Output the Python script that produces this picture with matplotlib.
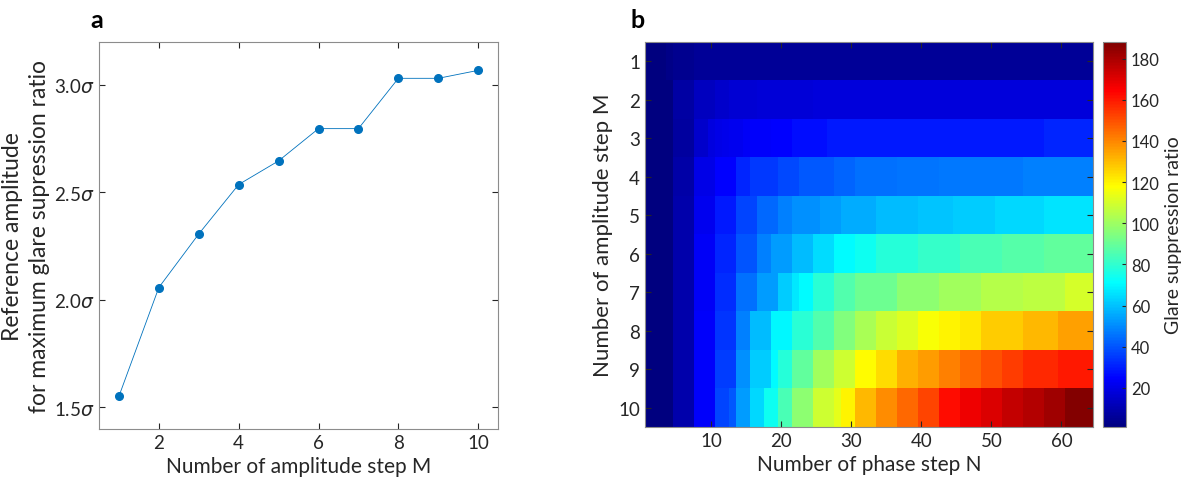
import numpy as np
import matplotlib
matplotlib.use("Agg")
import matplotlib.pyplot as plt
from matplotlib.colors import LinearSegmentedColormap

plt.rcParams['font.family'] = ['Lato', 'DejaVu Sans']
plt.rcParams['mathtext.fontset'] = 'dejavusans'

# panel a
m_steps = [1, 2, 3, 4, 5, 6, 7, 8, 9, 10]
ref_amp = [1.552, 2.058, 2.307, 2.537, 2.647, 2.797, 2.797, 3.031, 3.031, 3.068]
ytick_vals = [1.5, 2.0, 2.5, 3.0]
ytick_labels = ["1.5$\\sigma$", "2.0$\\sigma$", "2.5$\\sigma$", "3.0$\\sigma$"]

# panel b: glare suppression ratio, rows M = 1..10, columns N = 1..64
ratio_m1 = [1.5, 1.5, 1.5, 3, 4.5, 4.5, 4.5, 5.5, 5.5, 5.5, 5.5, 5.5, 5.5, 5.5, 5.5, 5.5,
            5.5, 5.5, 5.5, 5.5, 5.5, 5.5, 5.5, 5.5, 5.5, 5.5, 5.5, 5.5, 5.5, 5.5, 5.5, 5.5,
            5.5, 5.5, 5.5, 5.5, 5.5, 5.5, 5.5, 5.5, 5.5, 5.5, 5.5, 5.5, 5.5, 5.5, 5.5, 5.5,
            5.5, 5.5, 5.5, 5.5, 5.5, 5.5, 5.5, 5.5, 5.5, 5.5, 5.5, 5.5, 5.5, 5.5, 5.5, 5.5]
ratio_m2 = [1.5, 1.5, 1.5, 1.5, 8, 8, 8, 13, 13, 13, 15, 15, 16.5, 16.5, 16.5, 16.5,
            17.5, 17.5, 17.5, 17.5, 17.5, 17.5, 17.5, 17.5, 18.5, 18.5, 18.5, 18.5, 18.5, 18.5, 18.5, 18.5,
            18.5, 18.5, 18.5, 18.5, 18.5, 18.5, 18.5, 18.5, 18.5, 18.5, 18.5, 18.5, 18.5, 18.5, 18.5, 18.5,
            18.5, 18.5, 18.5, 18.5, 18.5, 18.5, 18.5, 18.5, 18.5, 18.5, 18.5, 18.5, 18.5, 18.5, 18.5, 18.5]
ratio_m3 = [1.5, 1.5, 1.5, 1.5, 7.5, 7.5, 7.5, 15.5, 15.5, 19, 20, 21, 22, 22, 23, 24,
            24, 24, 25, 25, 25, 27, 27, 27, 27, 27, 29, 29, 29, 29, 29, 29,
            29, 29, 29, 29, 29, 29, 29, 29, 29, 29, 29, 29, 29, 29, 29, 29,
            29, 29, 29, 29, 29, 29, 29, 29, 29, 31, 31, 31, 31, 31, 31, 31]
ratio_m4 = [1.5, 1.5, 1.5, 1.5, 9, 9, 9, 20.5, 20.5, 20.5, 25, 25, 25, 31, 31, 35,
            35, 35, 35, 38, 38, 38, 41, 41, 41, 41, 41, 43, 43, 43, 45.5, 45.5,
            45.5, 45.5, 45.5, 45.5, 46, 46, 46, 46, 46, 46, 47, 47, 47, 47, 47, 47,
            47, 47, 47, 47, 47, 47, 48, 48, 48, 48, 48, 48, 48, 48, 48, 48]
ratio_m5 = [1.5, 1.5, 1.5, 1.5, 9.5, 9.5, 9.5, 22, 22, 22, 29, 29, 29, 37, 37, 37,
            43.5, 43.5, 43.5, 48, 48, 51, 51, 51, 51, 53.5, 53.5, 53.5, 56, 56, 56, 56,
            56, 59, 59, 59, 59, 59, 59, 60.5, 60.5, 60.5, 60.5, 60.5, 62, 62, 62, 62,
            62, 62, 64, 64, 64, 64, 64, 64, 64, 66.5, 66.5, 66.5, 66.5, 66.5, 66.5, 66.5]
ratio_m6 = [1.5, 1.5, 1.5, 1.5, 9.5, 9.5, 9.5, 23, 23, 23, 31, 31, 31, 40, 40, 40,
            48, 48, 53, 53, 53, 59, 59, 59, 65, 65, 65, 71, 71, 71, 74, 74,
            74, 78, 78, 78, 78, 78, 78, 81, 81, 81, 81, 81, 81, 85, 85, 85,
            85, 85, 85, 87, 87, 87, 87, 87, 87, 89, 89, 89, 89, 89, 89, 89]
ratio_m7 = [1.5, 1.5, 1.5, 1.5, 9.5, 9.5, 9.5, 23, 23, 23, 33, 33, 33, 45, 45, 45,
            53, 53, 53, 62, 62, 67, 71, 71, 79, 79, 79, 86, 86, 86, 91, 91,
            91, 91, 91, 91, 97, 97, 97, 97, 97, 97, 101, 101, 101, 101, 101, 101,
            104, 104, 104, 104, 104, 104, 106, 106, 106, 106, 106, 106, 110, 110, 110, 110]
ratio_m8 = [1.5, 1.5, 1.5, 1.5, 9.5, 9.5, 9.5, 24, 24, 24, 34, 34, 34, 48, 48, 59,
            59, 59, 70, 70, 70, 79, 79, 79, 86, 86, 86, 95, 95, 95, 102, 102,
            102, 108, 108, 108, 112, 112, 112, 117, 117, 117, 120, 120, 120, 122, 122, 122,
            127, 127, 127, 127, 127, 127, 131, 131, 131, 131, 131, 135, 135, 135, 135, 135]
ratio_m9 = [1.5, 1.5, 1.5, 1.5, 9.5, 9.5, 9.5, 24, 24, 24, 36, 36, 36, 51, 51, 62,
            62, 62, 71, 78, 78, 89, 89, 89, 101, 101, 101, 109, 109, 109, 118, 118,
            118, 124, 124, 124, 132, 132, 132, 136, 136, 136, 141, 141, 141, 145, 145, 145,
            150, 150, 150, 153, 153, 153, 157, 157, 157, 157, 157, 160, 160, 160, 160, 160]
ratio_m10 = [1.5, 1.5, 1.5, 1.5, 9.5, 9.5, 9.5, 24, 24, 24, 37, 37, 41, 53, 53, 64,
             64, 74, 74, 85, 85, 97, 97, 97, 109, 109, 109, 113, 120, 120, 131, 131,
             131, 139, 139, 139, 145, 145, 145, 152, 152, 152, 162, 162, 162, 167, 167, 167,
             171, 171, 171, 175, 175, 175, 178, 178, 178, 182, 182, 182, 187, 187, 187, 187]
ratio = np.array([ratio_m1, ratio_m2, ratio_m3, ratio_m4, ratio_m5,
                  ratio_m6, ratio_m7, ratio_m8, ratio_m9, ratio_m10])
n_steps = np.arange(1, ratio.shape[1] + 1)

# MATLAB style jet
matlab_jet = LinearSegmentedColormap('matlab_jet', {
    'red':   [(0, 0, 0), (0.375, 0, 0), (0.625, 1, 1), (0.875, 1, 1), (1, 0.5, 0.5)],
    'green': [(0, 0, 0), (0.125, 0, 0), (0.375, 1, 1), (0.625, 1, 1), (0.875, 0, 0), (1, 0, 0)],
    'blue':  [(0, 0.5, 0.5), (0.125, 1, 1), (0.375, 1, 1), (0.625, 0, 0), (1, 0, 0)],
}, N=256)

text_col = "#262626"
edge_col = "#8c8c8c"

fig = plt.figure(figsize=(11.88, 4.89), dpi=100)

# ---- panel a ----
ax1 = fig.add_axes([0.0833, 0.1207, 0.336, 0.7914])
ax1.plot(m_steps, ref_amp, '-', color="#0072BD", lw=0.6,
         marker='o', markersize=5.5, markerfacecolor="#0072BD", markeredgecolor="#0072BD")
ax1.set_xlim(0.5, 10.5)
ax1.set_ylim(1.4, 3.2)
ax1.set_xticks([2, 4, 6, 8, 10])
ax1.set_yticks(ytick_vals)
ax1.set_yticklabels(ytick_labels)
ax1.set_xlabel("Number of amplitude step M", fontsize=15, color=text_col, labelpad=4)
ax1.set_ylabel("Reference amplitude\nfor maximum glare supression ratio",
               fontsize=16.5, color=text_col, linespacing=1.35)
ax1.yaxis.set_label_coords(-0.122, 0.5)
ax1.text(-0.005, 1.059, "a", transform=ax1.transAxes, fontsize=18, fontweight='bold',
         ha='center', va='center')

# ---- panel b ----
ax2 = fig.add_axes([0.5429, 0.1247, 0.3771, 0.7873])
im = ax2.imshow(ratio, cmap=matlab_jet, vmin=1, vmax=188, aspect='auto',
                interpolation='nearest',
                extent=[n_steps[0] - 0.5, n_steps[-1] + 0.5, 10.5, 0.5])
ax2.set_xticks([10, 20, 30, 40, 50, 60])
ax2.set_yticks(m_steps)
ax2.set_xlabel("Number of phase step N", fontsize=15, color=text_col, labelpad=4)
ax2.set_ylabel("Number of amplitude step M", fontsize=16, color=text_col)
ax2.yaxis.set_label_coords(-0.071, 0.5)
ax2.text(-0.016, 1.059, "b", transform=ax2.transAxes, fontsize=18, fontweight='bold',
         ha='center', va='center')

for ax in (ax1, ax2):
    ax.tick_params(direction='in', top=True, right=True, labelsize=13.5,
                   colors=text_col, length=4, width=0.8)
    for s in ax.spines.values():
        s.set_color(edge_col)
        s.set_linewidth(0.8)

cax = fig.add_axes([0.9285, 0.1247, 0.0194, 0.7873])
cb = fig.colorbar(im, cax=cax)
cb.set_ticks([20, 40, 60, 80, 100, 120, 140, 160, 180])
cb.ax.tick_params(direction='in', labelsize=12, colors=text_col, length=3, width=0.8)
cb.outline.set_edgecolor(edge_col)
cb.set_label("Glare suppression ratio", fontsize=14, color=text_col, labelpad=4)

fig.savefig("out.png", dpi=100)
